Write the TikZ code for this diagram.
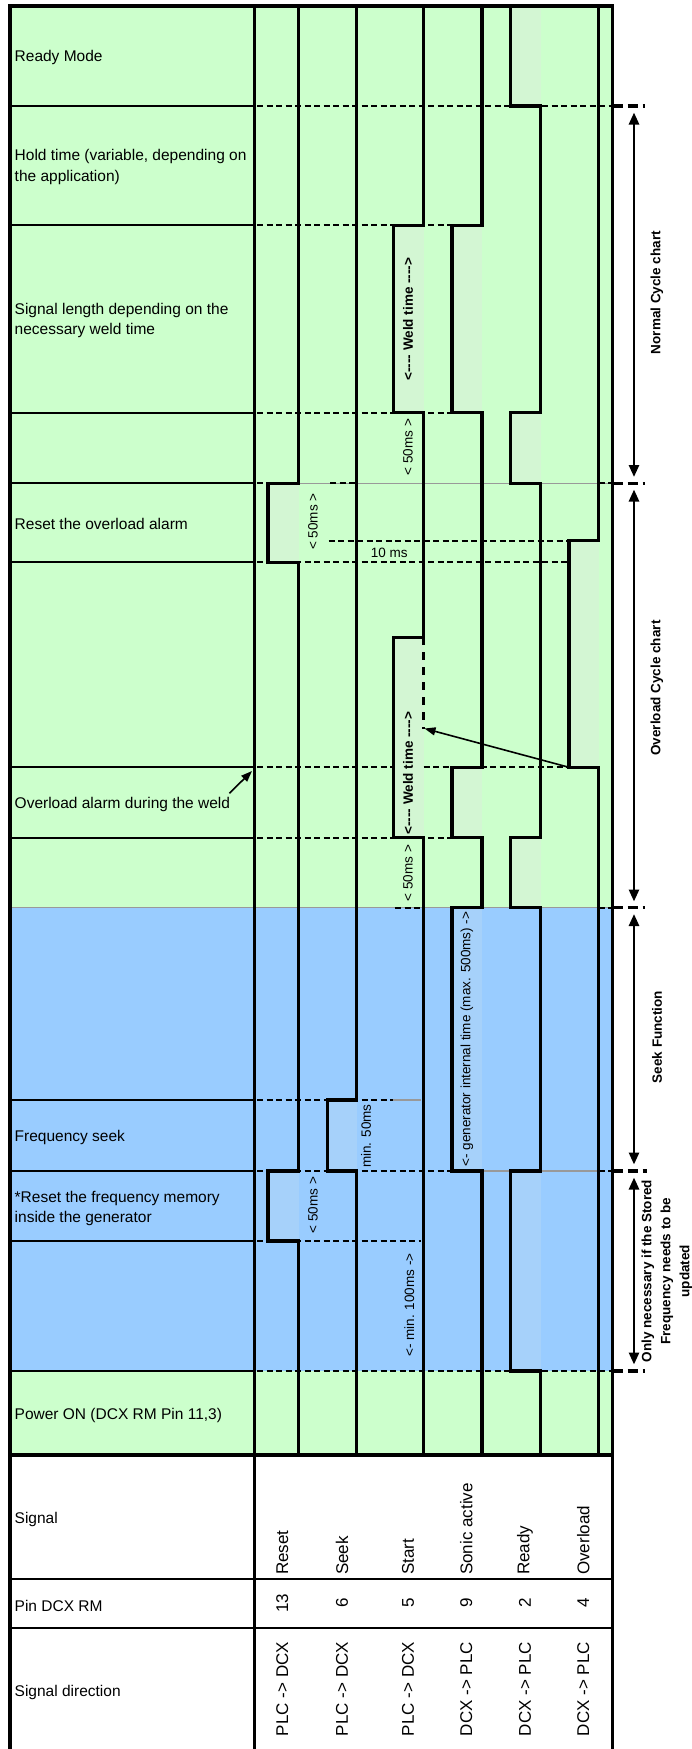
\documentclass[tikz,border=0pt]{standalone}
\usepackage{fontspec}
\setmainfont{Liberation Sans}
\usetikzlibrary{arrows.meta}
\definecolor{gbg}{HTML}{CCFFCC}
\definecolor{bbg}{HTML}{99CCFF}
\definecolor{gpl}{HTML}{D3F6D3}
\definecolor{bpl}{HTML}{A6D1FA}
\begin{document}
\begin{tikzpicture}[x=1pt,y=-1pt,
  sig/.style={line width=3.4pt, line join=miter},
  dsh/.style={line width=1.9pt, dash pattern=on 6pt off 3.5pt},
  tdsh/.style={line width=3.2pt, dash pattern=on 10pt off 5pt},
  gry/.style={line width=1.2pt, black!40},
  rowl/.style={line width=2pt},
  tabl/.style={line width=2.6pt},
  bord/.style={line width=3.2pt},
  lbl/.style={anchor=west, font=\fontsize{15.5}{20.5}\selectfont, inner sep=0pt, align=left},
  clbl/.style={rotate=90, font=\fontsize{17}{20}\selectfont, inner sep=0pt},
  ann/.style={rotate=90, font=\fontsize{13.5}{16}\selectfont, inner sep=0pt},
  annb/.style={rotate=90, font=\bfseries\fontsize{13.5}{16}\selectfont, inner sep=0pt},
  side/.style={rotate=90, font=\bfseries\fontsize{13.5}{19}\selectfont, inner sep=0pt, align=center},
  darr/.style={line width=2.6pt, {Triangle[length=12pt,width=10pt]}-{Triangle[length=12pt,width=10pt]}},
  parr/.style={line width=1.6pt, -{Triangle[length=11pt,width=8pt]}}
]
\useasboundingbox (0,0) rectangle (692,1749);
% backgrounds
\fill[gbg] (10,6) rectangle (612.5,1455);
\fill[bbg] (10,907.7) rectangle (612.5,1371);
% pulse interiors
\fill[gpl] (268,483.3) rectangle (298.5,562.3);
\fill[bpl] (268,1171) rectangle (298.5,1241);
\fill[bpl] (327.5,1100) rectangle (356.5,1171);
\fill[gpl] (393.5,225.3) rectangle (423.5,412.7);
\fill[gpl] (393.5,637.3) rectangle (423.5,837.7);
\fill[gpl] (452,225.3) rectangle (482,412.7);
\fill[gpl] (452,767.3) rectangle (482,837.7);
\fill[bpl] (452,907.7) rectangle (482,1171);
\fill[gpl] (510.5,6) rectangle (540.5,106);
\fill[gpl] (510.5,412.7) rectangle (540.5,483.3);
\fill[gpl] (510.5,837.7) rectangle (540.5,907.7);
\fill[bpl] (510.5,1171) rectangle (540.5,1371);
\fill[gpl] (569,540.7) rectangle (598.5,767.3);

% label column row lines
\foreach \yy in {106,225.3,412.7,483.3,562.3,767.3,837.7,1100,1171,1241,1371}
  \draw[rowl] (10,\yy) -- (254.5,\yy);
\draw[gry] (10,907.7) -- (254.5,907.7);

% dashed time markers
\draw[dsh] (257,106) -- (612.5,106);
\draw[tdsh] (612.5,106) -- (645,106);
\draw[dsh] (257,225.3) -- (482,225.3);
\draw[dsh] (257,412.7) -- (482,412.7);
\draw[dsh] (257,483.3) -- (268,483.3);
\draw[gry] (298.5,483.3) -- (612.5,483.3);
\draw[dsh] (330,483.3) -- (356.5,483.3);
\draw[dsh] (598.5,483.3) -- (612.5,483.3);
\draw[tdsh] (612.5,483.3) -- (645,483.3);
\draw[dsh] (328.6,540.7) -- (569,540.7);
\draw[dsh] (257,562.3) -- (569,562.3);
\draw[dsh] (257,767.3) -- (393.5,767.3);
\draw[dsh] (423.5,767.3) -- (569,767.3);
\draw[dsh] (257,837.7) -- (452,837.7);
\draw[gry] (254.5,907.7) -- (612.5,907.7);
\draw[dsh] (395,907.7) -- (423.5,907.7);
\draw[dsh] (598.5,907.7) -- (612.5,907.7);
\draw[tdsh] (612.5,907.7) -- (645,907.7);
\draw[dsh] (257,1100) -- (393,1100);
\draw[gry] (393,1100) -- (421,1100);
\draw[dsh] (257,1171) -- (452,1171);
\draw[gry] (482,1171) -- (598.5,1171);
\draw[dsh] (598.5,1171) -- (612.5,1171);
\draw[tdsh] (612.5,1171) -- (647,1171);
\draw[dsh] (257,1241) -- (421,1241);
\draw[dsh] (257,1371) -- (612.5,1371);
\draw[tdsh] (612.5,1371) -- (645,1371);
% dashed continuation of start
\draw[line width=2.2pt, dash pattern=on 8pt off 7pt] (423.5,637.3) -- (423.5,729);

% signals
\draw[sig] (298.5,6) -- (298.5,483.3) -- (268,483.3) -- (268,562.3) -- (298.5,562.3) -- (298.5,1171) -- (268,1171) -- (268,1241) -- (298.5,1241) -- (298.5,1455);
\draw[sig] (356.5,6) -- (356.5,1100) -- (327.5,1100) -- (327.5,1171) -- (356.5,1171) -- (356.5,1455);
\draw[sig] (423.5,6) -- (423.5,225.3) -- (393.5,225.3) -- (393.5,412.7) -- (423.5,412.7) -- (423.5,637.3) -- (393.5,637.3) -- (393.5,837.7) -- (423.5,837.7) -- (423.5,1455);
\draw[sig] (482,6) -- (482,225.3) -- (452,225.3) -- (452,412.7) -- (482,412.7) -- (482,767.3) -- (452,767.3) -- (452,837.7) -- (482,837.7) -- (482,907.7) -- (452,907.7) -- (452,1171) -- (482,1171) -- (482,1455);
\draw[sig] (510.5,6) -- (510.5,106) -- (540.5,106) -- (540.5,412.7) -- (510.5,412.7) -- (510.5,483.3) -- (540.5,483.3) -- (540.5,837.7) -- (510.5,837.7) -- (510.5,907.7) -- (540.5,907.7) -- (540.5,1171) -- (510.5,1171) -- (510.5,1371) -- (540.5,1371) -- (540.5,1455);
\draw[sig] (598.5,6) -- (598.5,540.7) -- (569,540.7) -- (569,767.3) -- (598.5,767.3) -- (598.5,1455);

% borders and table lines
\draw[bord] (10,6) -- (10,1749);
\draw[bord] (254.5,6) -- (254.5,1749);
\draw[bord] (612.5,6) -- (612.5,1749);
\draw[line width=3.6pt] (8.4,6) -- (614.1,6);
\draw[bord] (10,1455) -- (612.5,1455);
\draw[tabl] (10,1579) -- (612.5,1579);
\draw[tabl] (10,1628) -- (612.5,1628);

% left labels
\node[lbl] (lready) at (14.5,57) {Ready Mode};
\node[lbl] (lhold) at (14.5,167) {Hold time (variable, depending on\\the application)};
\node[lbl] (lsiglen) at (14.5,320.5) {Signal length depending on the\\necessary weld time};
\node[lbl] (lreset) at (14.5,524.3) {Reset the overload alarm};
\node[lbl] (lovl) at (14.5,804) {Overload alarm during the weld};
\node[lbl] (lfseek) at (14.5,1137.7) {Frequency seek};
\node[lbl] (lrfm) at (14.5,1208.3) {*Reset the frequency memory\\inside the generator};
\node[lbl] (lpow) at (14.5,1415.7) {Power ON (DCX RM Pin 11,3)};
\node[lbl] (lsig) at (14.5,1519.3) {Signal};
\node[lbl] (lpin) at (14.5,1605.7) {Pin DCX RM};
\node[lbl] (ldir) at (14.5,1692.3) {Signal direction};

% column labels
\node[clbl, anchor=west] (cReset) at (282.3,1575) {Reset};
\node[clbl, anchor=west] (cSeek) at (342,1575) {Seek};
\node[clbl, anchor=west] (cStart) at (408,1575) {Start};
\node[clbl, anchor=west] (cSonic) at (466.3,1575) {Sonic active};
\node[clbl, anchor=west] (cReady) at (525,1575) {Ready};
\node[clbl, anchor=west] (cOver) at (583.2,1575) {Overload};
\node[clbl] (pReset) at (282.3,1603) {13};
\node[clbl] (pSeek) at (342,1603) {6};
\node[clbl] (pStart) at (408,1603) {5};
\node[clbl] (pSonic) at (466.3,1603) {9};
\node[clbl] (pReady) at (525,1603) {2};
\node[clbl] (pOver) at (583.2,1603) {4};
\node[clbl] (dReset) at (282.3,1689) {PLC -> DCX};
\node[clbl] (dSeek) at (342,1689) {PLC -> DCX};
\node[clbl] (dStart) at (408,1689) {PLC -> DCX};
\node[clbl] (dSonic) at (466.3,1689) {DCX -> PLC};
\node[clbl] (dReady) at (525,1689) {DCX -> PLC};
\node[clbl] (dOver) at (583.2,1689) {DCX -> PLC};

% annotations
\node[annb] (weld1) at (408,319) {<{-}{-}{-}{-} Weld time {-}{-}{-}{-}>};
\node[ann] (ms1) at (408,447) {< 50ms >};
\node[ann] (ms2) at (313,521.7) {< 50ms >};
\node[font=\fontsize{13.5}{16}\selectfont, inner sep=0pt] (ten) at (389.3,552.7) {10 ms};
\node[annb] (weld2) at (408,773) {<{-}{-}{-}{-} Weld time {-}{-}{-}{-}>};
\node[ann] (ms3) at (408,873) {< 50ms >};
\node[ann] (gen) at (467,1039) {<- generator internal time (max. 500ms) ->};
\node[ann] (min50) at (366,1136) {min. 50ms};
\node[ann] (ms4) at (313,1205) {< 50ms >};
\node[ann] (min100) at (409.4,1305) {<- min. 100ms ->};

% pointer arrows
\coordinate (ovlTip) at (569,767.3);
\coordinate (weldCut) at (424.5,728.5);
\draw[parr] (ovlTip) -- (weldCut);
\coordinate (lovlA) at (229.4,793.3);
\coordinate (lovlB) at (252,771);
\draw[parr] (lovlA) -- (lovlB);

% side ranges
\coordinate (s1a) at (634,112.5);
\coordinate (s1b) at (634,477);
\coordinate (s2a) at (634,489.5);
\coordinate (s2b) at (634,901.5);
\coordinate (s3a) at (634,914);
\coordinate (s3b) at (634,1164.5);
\coordinate (s4a) at (634,1177.5);
\coordinate (s4b) at (634,1364.5);
\draw[darr] (s1a) -- (s1b);
\draw[darr] (s2a) -- (s2b);
\draw[darr] (s3a) -- (s3b);
\draw[darr] (s4a) -- (s4b);
\node[side] (tnorm) at (657,292.5) {Normal Cycle chart};
\node[side] (tover) at (657,688) {Overload Cycle chart};
\node[side] (tseek) at (657,1037) {Seek Function};
\node[side] (tonly) at (667,1271) {Only necessary if the Stored\\Frequency needs to be\\updated};
\end{tikzpicture}
\end{document}
